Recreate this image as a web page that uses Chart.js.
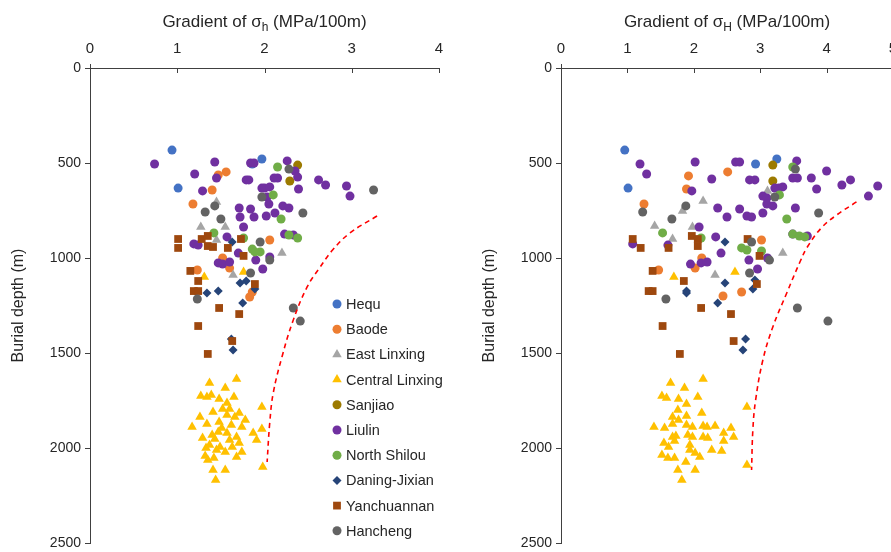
<!DOCTYPE html>
<html>
<head>
<meta charset="utf-8">
<script src="https://cdn.jsdelivr.net/npm/chart.js@4.4.0/dist/chart.umd.min.js"></script>
<style>
  html, body { margin: 0; padding: 0; background: #fff; overflow: hidden; }
  #wrap { position: relative; width: 891px; height: 552px; overflow: hidden; }
  #left { position: absolute; left: 0; top: 0; }
  #right { position: absolute; left: 471px; top: 0; }
</style>
</head>
<body>
<div id="wrap">
  <canvas id="left" width="445" height="552"></canvas>
  <canvas id="right" width="428" height="552"></canvas>
</div>
<script>
// [gradient (MPa/100m), burial depth (m)]
const seriesNames = ['Hequ', 'Baode', 'East Linxing', 'Central Linxing', 'Sanjiao',
  'Liulin', 'North Shilou', 'Daning-Jixian', 'Yanchuannan', 'Hancheng'];
const depthTicks = [0, 500, 1000, 1500, 2000, 2500];

// sigma_h panel
const hequ_h = [[0.94,432],[1.01,632],[1.86,505],[1.97,479]];
const baode_h = [[1.47,563],[1.56,547],[1.40,642],[1.18,716],[2.06,905],[1.52,1000],[1.60,1053],[1.23,1063],[1.86,1179],[1.83,1205]];
const eastLinxing_h = [[1.45,705],[1.27,837],[1.55,837],[1.45,905],[2.20,974],[1.64,1089]];
const centralLinxing_h = [[1.31,1100],[1.76,1074],[1.68,1637],[1.37,1658],[1.55,1684],[1.27,1726],[1.34,1732],[1.39,1721],
  [1.48,1742],[1.65,1732],[1.57,1763],[1.97,1784],[1.41,1811],[1.52,1795],[1.60,1795],[1.71,1816],[1.26,1837],[1.57,1826],
  [1.48,1863],[1.66,1837],[1.34,1874],[1.62,1879],[1.74,1889],[1.17,1889],[1.87,1921],[1.97,1900],[1.40,1932],[1.57,1921],
  [1.68,1942],[1.29,1947],[1.43,1953],[1.60,1958],[1.91,1958],[1.37,1984],[1.49,1995],[1.71,1974],[1.33,2000],[1.74,2021],
  [1.32,2042],[1.45,2011],[1.68,2047],[1.35,2063],[1.42,2053],[1.41,2116],[1.55,2116],[1.98,2100],[1.44,2168],
  [1.51,1895],[1.47,1916],[1.55,2021],[1.63,1995],[1.78,1853]];
const sanjiao_h = [[2.38,511],[2.29,595]];
const liulin_h = [[0.74,505],[1.43,495],[1.20,558],[1.45,579],[1.29,647],[1.84,500],[1.88,500],[2.26,489],[1.79,589],[1.82,589],
  [2.11,579],[2.15,579],[2.35,542],[2.38,574],[2.39,637],[2.62,589],[2.70,616],[2.94,621],[2.98,674],[1.97,632],[2.00,632],
  [2.06,626],[2.03,679],[2.05,716],[2.21,726],[2.28,737],[2.12,763],[1.71,737],[1.84,742],[1.72,784],[1.88,784],[2.02,779],
  [1.76,837],[1.57,889],[1.19,926],[1.24,932],[2.23,874],[2.33,879],[1.70,974],[1.90,1011],[2.06,995],[1.47,1026],
  [1.52,1032],[1.60,1021],[1.98,1058]];
const northShilou_h = [[2.15,521],[2.10,668],[2.19,795],[2.28,879],[2.38,895],[1.42,868],[1.76,895],[1.86,953],[1.95,968],[1.89,968]];
const daning_h = [[1.63,916],[1.72,1132],[1.79,1121],[1.89,1163],[1.34,1184],[1.47,1174],[1.75,1237],[1.62,1426],[1.64,1484]];
const yanchuannan_h = [[1.01,900],[1.01,947],[1.28,900],[1.35,884],[1.35,937],[1.41,942],[1.58,947],[1.73,900],[1.76,989],
  [1.15,1068],[1.24,1121],[1.19,1174],[1.24,1174],[1.48,1263],[1.71,1295],[1.24,1358],[1.63,1437],[1.35,1505],[1.89,1137]];
const hancheng_h = [[2.28,532],[1.97,679],[1.32,758],[1.43,726],[1.50,795],[2.44,763],[3.25,642],[1.95,916],[2.06,1011],
  [1.84,1079],[1.23,1216],[2.33,1263],[2.41,1332]];
const limit_h = [[3.29,779],[2.98,868],[2.78,958],[2.63,1053],[2.49,1151],[2.33,1326],[2.20,1521],[2.10,1711],[2.06,1868],[2.03,2074]];

// sigma_H panel
const hequ_H = [[0.96,432],[1.01,632],[2.93,505],[3.25,479]];
const baode_H = [[1.92,568],[2.51,547],[1.89,637],[1.25,716],[3.02,905],[2.12,1000],[2.02,1053],[1.47,1063],[2.72,1179],[2.44,1200]];
const eastLinxing_H = [[2.14,700],[1.83,753],[1.41,832],[1.98,837],[1.68,900],[3.11,647],[3.34,974],[2.32,1089]];
const centralLinxing_H = [[1.70,1100],[2.62,1074],[1.65,1658],[2.14,1637],[1.86,1684],[1.52,1726],[1.59,1737],[1.77,1742],
  [2.06,1732],[1.89,1768],[2.80,1784],[1.76,1800],[2.12,1816],[1.68,1837],[1.77,1853],[1.89,1832],[1.40,1889],[1.56,1895],
  [1.68,1874],[1.89,1879],[1.98,1889],[2.14,1884],[2.20,1889],[2.32,1884],[2.56,1895],[2.45,1921],[2.60,1942],[1.68,1942],
  [1.73,1937],[1.91,1932],[1.98,1942],[2.14,1942],[2.21,1947],[1.55,1974],[1.62,1995],[1.71,1963],[1.94,1984],[2.45,1963],
  [1.52,2037],[1.61,2053],[1.71,2053],[1.94,2011],[2.02,2026],[2.09,2047],[2.27,2011],[2.42,2016],[1.88,2074],[1.76,2116],
  [2.02,2116],[2.80,2089],[1.82,2168]];
const sanjiao_H = [[3.19,511],[3.19,595]];
const liulin_H = [[1.19,505],[1.29,558],[2.02,495],[1.97,647],[2.27,584],[2.63,495],[2.69,495],[2.84,589],[2.92,589],[3.55,489],
  [3.49,579],[3.56,579],[3.77,579],[3.85,637],[4.00,542],[4.23,616],[4.36,589],[4.63,674],[4.77,621],[3.22,632],[3.28,632],
  [3.34,626],[3.04,674],[3.10,684],[3.10,716],[3.19,726],[3.04,763],[2.36,737],[2.69,742],[2.50,784],[2.80,779],[2.87,784],
  [3.53,737],[2.08,837],[2.33,889],[1.08,926],[1.61,932],[3.49,874],[3.71,884],[2.41,974],[2.83,1011],[3.11,1000],
  [1.95,1032],[2.11,1026],[2.20,1021],[2.96,1058]];
const northShilou_H = [[3.49,521],[3.29,668],[3.40,795],[3.49,874],[3.59,884],[3.67,889],[1.53,868],[2.11,895],[2.72,947],[2.80,958],[3.02,963]];
const daning_H = [[2.47,916],[2.47,1132],[2.92,1116],[2.89,1163],[1.89,1174],[1.89,1184],[2.36,1237],[2.78,1426],[2.74,1484]];
const yanchuannan_H = [[1.08,900],[1.20,947],[1.62,947],[1.97,884],[2.06,900],[2.06,937],[2.81,900],[2.99,989],[1.38,1068],
  [1.85,1121],[1.32,1174],[1.38,1174],[2.11,1263],[2.56,1295],[1.53,1358],[2.60,1437],[1.79,1505],[2.95,1137]];
const hancheng_H = [[3.53,532],[3.22,679],[1.88,726],[1.67,795],[1.23,758],[3.88,763],[2.87,916],[3.14,1011],[2.84,1079],
  [1.58,1216],[3.56,1263],[4.02,1332],[5.05,642]];
const limit_H = [[4.45,705],[4.15,774],[3.92,842],[3.71,942],[3.60,1020],[3.40,1184],[3.19,1363],[3.04,1537],[2.93,1750],[2.89,1900],[2.87,2116]];

const colors = ['#4472C4', '#ED7D31', '#A5A5A5', '#FFC000', '#9C7A00', '#7030A0', '#70AD47', '#264478', '#9E480E', '#636363'];
const shapes = ['circle', 'circle', 'triangle', 'triangle', 'circle', 'circle', 'circle', 'rectRot', 'rect', 'circle'];
const radii = [4.5, 4.5, 5.5, 5.5, 4.5, 4.5, 4.5, 4.5, 5.5, 4.5];

const FONT = '"Liberation Sans", Arial, sans-serif';
const TEXT = '#262626';
const AXIS = '#404040';

const toXY = arr => arr.map(p => ({ x: p[0], y: p[1] }));

// title with subscript, inward x ticks, and the inset legend
const decor = {
  id: 'decor',
  afterDraw(chart, args, opts) {
    const { ctx, chartArea, scales } = chart;
    ctx.save();
    ctx.strokeStyle = AXIS;
    ctx.lineWidth = 1;
    scales.x.ticks.forEach(t => {
      const px = Math.round(scales.x.getPixelForValue(t.value)) + 0.5;
      ctx.beginPath();
      ctx.moveTo(px, chartArea.top - (t.value === 0 ? 4 : 0));
      ctx.lineTo(px, chartArea.top + 5);
      ctx.stroke();
    });

    // axis title
    const big = '17px ' + FONT, small = '12px ' + FONT;
    const a = 'Gradient of \u03C3', b = opts.sub, c = ' (MPa/100m)';
    ctx.font = big; const wa = ctx.measureText(a).width, wc = ctx.measureText(c).width;
    ctx.font = small; const wb = ctx.measureText(b).width;
    let x = (chartArea.left + chartArea.right) / 2 - (wa + wb + wc) / 2;
    const y = 22;
    ctx.fillStyle = TEXT;
    ctx.textBaseline = 'middle';
    ctx.textAlign = 'left';
    ctx.font = big; ctx.fillText(a, x, y); x += wa;
    ctx.font = small; ctx.fillText(b, x, y + 6); x += wb;
    ctx.font = big; ctx.fillText(c, x, y);

    if (opts.legend) {
      const lx = 337, ly = 304, step = 25.2;
      ctx.font = '14.5px ' + FONT;
      seriesNames.forEach((name, i) => {
        const yy = ly + i * step;
        ctx.fillStyle = colors[i];
        if (Chart.helpers && Chart.helpers.drawPoint) {
          Chart.helpers.drawPoint(ctx, { pointStyle: shapes[i], radius: radii[i], rotation: 0, borderWidth: 0 }, lx, yy);
        } else {
          ctx.beginPath(); ctx.arc(lx, yy, radii[i], 0, Math.PI * 2); ctx.fill();
        }
        ctx.fillStyle = TEXT;
        ctx.fillText(name, lx + 9, yy + 1);
      });
    }
    ctx.restore();
  }
};

function makeChart(id, lists, limit, xMax, sub, legend) {
  const datasets = lists.map((pts, i) => ({
    type: 'scatter',
    label: seriesNames[i],
    data: toXY(pts),
    pointStyle: shapes[i],
    pointRadius: radii[i],
    pointHoverRadius: radii[i],
    backgroundColor: colors[i],
    borderColor: colors[i],
    borderWidth: 0,
    clip: false,
    order: 20 - i
  }));
  datasets.push({
    type: 'line',
    label: 'limit',
    data: toXY(limit),
    borderColor: '#FF0000',
    borderWidth: 1.6,
    borderDash: [5, 4],
    pointRadius: 0,
    tension: 0.4,
    fill: false,
    order: 0
  });

  return new Chart(document.getElementById(id), {
    type: 'scatter',
    data: { datasets },
    options: {
      responsive: false,
      animation: false,
      layout: { padding: { left: 0, top: 0, right: 6, bottom: 9 } },
      plugins: {
        legend: { display: false },
        tooltip: { enabled: false },
        decor: { sub, legend }
      },
      scales: {
        x: {
          type: 'linear',
          position: 'top',
          min: 0, max: xMax,
          ticks: { stepSize: 1, padding: 10, color: TEXT, font: { family: FONT, size: 15 } },
          grid: { drawOnChartArea: false, drawTicks: false },
          border: { display: true, color: AXIS, width: 1 },
          afterFit: s => { s.height = 68; s.paddingLeft = 0; s.paddingRight = 0; }
        },
        y: {
          type: 'linear',
          reverse: true,
          min: 0, max: 2500,
          afterBuildTicks: s => { s.ticks = depthTicks.map(v => ({ value: v })); },
          ticks: { padding: 4, color: TEXT, font: { family: FONT, size: 14 }, callback: v => String(v) },
          grid: { drawOnChartArea: false, drawTicks: true, tickLength: 5, color: AXIS },
          border: { display: true, color: AXIS, width: 1 },
          title: { display: true, text: 'Burial depth (m)', color: TEXT, font: { family: FONT, size: 16 }, padding: { top: 9, bottom: 0 } },
          afterFit: s => { s.width = 90; s.paddingTop = 0; s.paddingBottom = 0; }
        }
      }
    },
    plugins: [decor]
  });
}

makeChart('left',
  [hequ_h, baode_h, eastLinxing_h, centralLinxing_h, sanjiao_h, liulin_h, northShilou_h, daning_h, yanchuannan_h, hancheng_h],
  limit_h, 4, 'h', true);
makeChart('right',
  [hequ_H, baode_H, eastLinxing_H, centralLinxing_H, sanjiao_H, liulin_H, northShilou_H, daning_H, yanchuannan_H, hancheng_H],
  limit_H, 5, 'H', false);
</script>
</body>
</html>
